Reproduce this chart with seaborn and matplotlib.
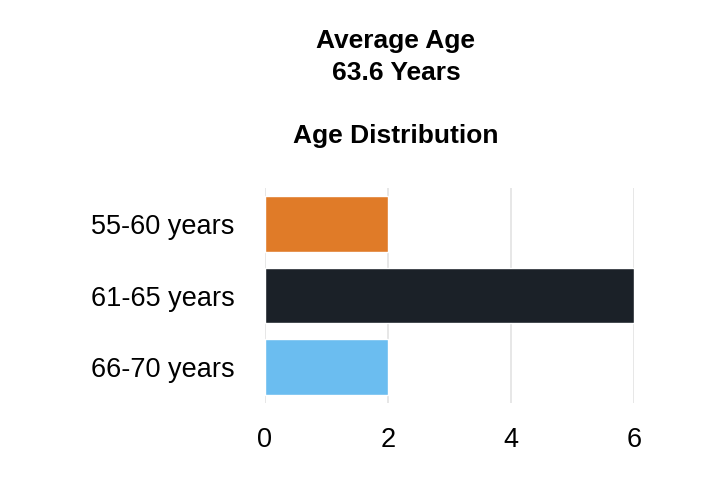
import matplotlib
matplotlib.use("Agg")
import matplotlib.pyplot as plt
import seaborn as sns
import pandas as pd

categories = ["55-60 years", "61-65 years", "66-70 years"]
counts = [2, 6, 2]
colors = ["#E07B28", "#1B2128", "#6BBDF0"]
xticks = [0, 2, 4, 6]

sns.set_theme(style="white")
plt.rcParams['font.family'] = ['Liberation Sans', 'DejaVu Sans']

df = pd.DataFrame({"cat": categories, "n": counts})
fig = plt.figure(figsize=(7.28, 4.8), dpi=100)
ax = fig.add_axes([265/728, 1-403/480, (634-265)/728, (403-188)/480])
sns.barplot(data=df, y="cat", x="n", hue="cat", palette=colors, orient="h",
            width=0.78, legend=False, ax=ax, saturation=1, zorder=3)
ax.set_xlim(0, 6)
ax.set_ylim(2.5, -0.5)
ax.set_xticks(xticks)
ax.set_xticklabels([str(t) for t in xticks])
ax.set_xlabel("")
ax.set_ylabel("")
for s in ax.spines.values():
    s.set_visible(False)
ax.grid(axis="x", color="#e3e3e3", linewidth=1.2, zorder=0)
ax.set_axisbelow(True)
ax.tick_params(axis="both", length=0, labelsize=19.5, colors="#000000")
ax.tick_params(axis="y", pad=22)
ax.tick_params(axis="x", pad=17)

for y, txt in [(41, "Average Age"), (73, "63.6 Years"), (136, "Age Distribution")]:
    fig.text(396/728, 1-y/480, txt, ha="center", va="center", fontsize=19,
             fontweight="bold", color="#000000")

fig.savefig("out.png", dpi=100)
